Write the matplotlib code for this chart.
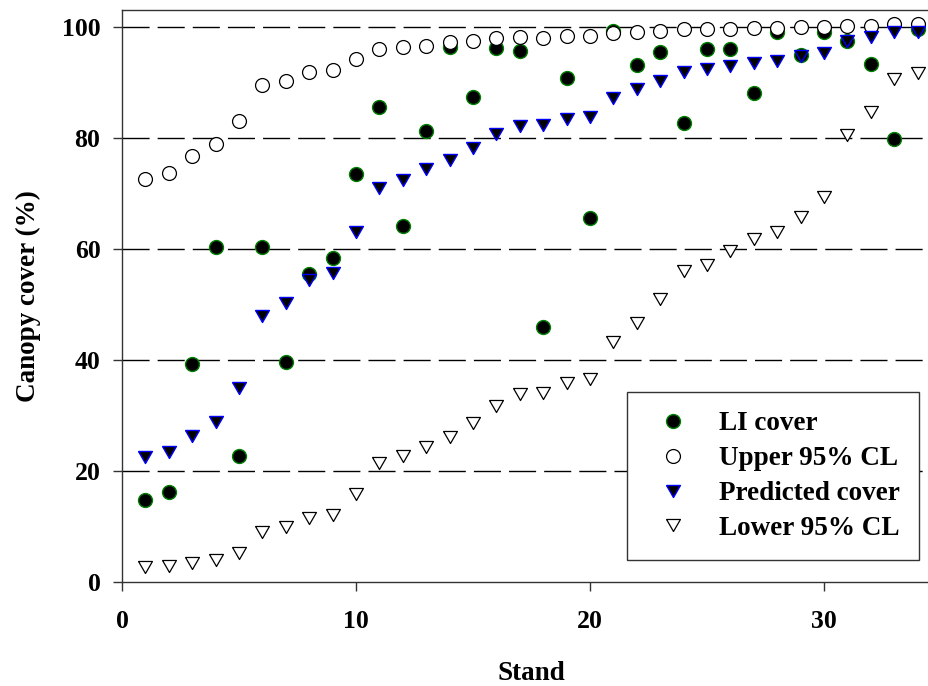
import matplotlib
matplotlib.use("Agg")
import matplotlib.pyplot as plt

plt.rcParams['font.family'] = ['Liberation Serif', 'DejaVu Serif']
plt.rcParams['font.weight'] = 'bold'

# Data
stand = list(range(1, 35))

li_cover = [14.7, 16.2, 39.3, 60.4, 22.6, 60.3, 39.6, 55.4, 58.4, 73.5,
            85.5, 64.1, 81.3, 96.4, 87.3, 96.2, 95.7, 46.0, 90.8, 65.5,
            99.3, 93.1, 95.4, 82.6, 95.9, 95.9, 88.0, 99.0, 94.9, 99.0,
            97.5, 93.3, 79.7, 99.6]

upper_cl = [72.6, 73.6, 76.7, 78.8, 83.1, 89.5, 90.3, 91.8, 92.2, 94.2,
            96.0, 96.3, 96.6, 97.2, 97.4, 97.9, 98.1, 98.0, 98.3, 98.3,
            98.9, 99.0, 99.3, 99.5, 99.6, 99.6, 99.7, 99.8, 99.9, 99.9,
            100.2, 100.2, 100.4, 100.5]

predicted = [22.5, 23.4, 26.3, 28.9, 34.9, 47.9, 50.2, 54.4, 55.7, 63.0,
             70.9, 72.4, 74.3, 76.0, 78.2, 80.6, 82.1, 82.3, 83.3, 83.7,
             87.2, 88.7, 90.3, 91.9, 92.3, 93.0, 93.5, 93.9, 94.7, 95.3,
             97.4, 98.2, 99.0, 99.1]

lower_cl = [2.7, 2.9, 3.5, 4.0, 5.2, 9.0, 9.9, 11.6, 12.1, 15.8,
            21.4, 22.6, 24.3, 26.2, 28.7, 31.7, 33.9, 34.0, 35.9, 36.6,
            43.2, 46.7, 51.0, 56.0, 57.1, 59.6, 61.7, 63.1, 65.8, 69.3,
            80.5, 84.6, 90.6, 91.7]

# equilateral down-pointing triangle
tri = [(-1, 0.866), (1, 0.866), (0, -0.866), (-1, 0.866)]

fig = plt.figure(figsize=(9.29, 6.86), dpi=100)
ax = fig.add_axes([0.1313, 0.1516, 0.8816, 0.8338])

ax.plot(stand, li_cover, ls='none', marker='o', ms=10, mfc='black',
        mec='#008000', mew=1.0, label='LI cover', zorder=3)
ax.plot(stand, upper_cl, ls='none', marker='o', ms=10, mfc='white',
        mec='black', mew=0.9, label='Upper 95% CL', zorder=4)
ax.plot(stand, predicted, ls='none', marker=tri, ms=10, mfc='black',
        mec='#0000ff', mew=1.0, label='Predicted cover', zorder=5)
ax.plot(stand, lower_cl, ls='none', marker=tri, ms=10, mfc='white',
        mec='black', mew=0.9, label='Lower 95% CL', zorder=6)

ax.set_xlim(0, 35)
ax.set_ylim(0, 103)
ax.set_xticks([0, 10, 20, 30])
ax.set_yticks([0, 20, 40, 60, 80, 100])

for yv in [20, 40, 60, 80, 100]:
    ax.axhline(yv, color='black', lw=1.0, ls=(0, (19.5, 5.8)), zorder=1)

ax.spines['right'].set_visible(False)
for s in ['left', 'bottom', 'top']:
    ax.spines[s].set_linewidth(1.0)
    ax.spines[s].set_color('#333333')

ax.tick_params(axis='both', direction='out', length=6.5, width=1.0,
               labelsize=18.5, color='#333333')
ax.tick_params(axis='x', pad=14)
ax.tick_params(axis='y', pad=9)

ax.set_xlabel('Stand', fontsize=19.5, fontweight='bold', labelpad=20)
ax.set_ylabel('Canopy cover (%)', fontsize=19.5, fontweight='bold', labelpad=15)

leg = ax.legend(loc='upper left', bbox_to_anchor=(627 / 929, 1 - 392 / 686),
                bbox_transform=fig.transFigure, fontsize=19.5, frameon=True,
                fancybox=False, framealpha=1, edgecolor='#333333',
                borderpad=0.72, handlelength=1.96, handletextpad=0.72,
                labelspacing=0.36, borderaxespad=0, numpoints=1)
leg.get_frame().set_linewidth(1.0)

fig.savefig('out.png', dpi=100)
